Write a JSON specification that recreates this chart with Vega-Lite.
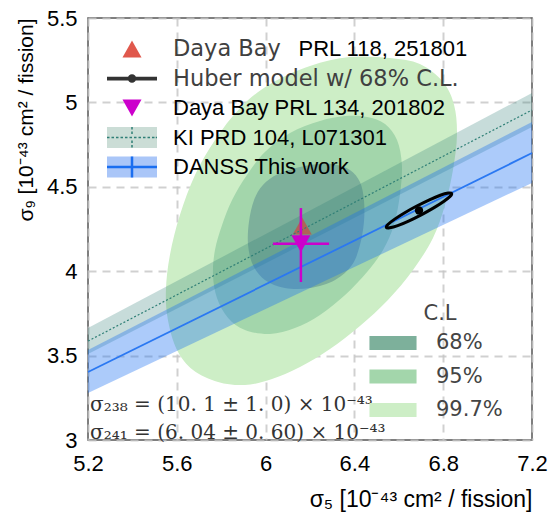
{
  "$schema": "https://vega.github.io/schema/vega-lite/v6.json",
  "width": 444,
  "height": 422,
  "autosize": {"type": "none"},
  "padding": {"left": 88, "top": 18, "right": 26, "bottom": 72},
  "background": "white",
  "config": {
    "view": {"stroke": "#555555", "strokeWidth": 1.5},
    "font": "Liberation Sans",
    "axis": {
      "grid": true,
      "gridColor": "#c4c4c4",
      "gridDash": [8, 6],
      "gridWidth": 2,
      "gridOpacity": 0.8,
      "ticks": false,
      "domain": false,
      "labelFont": "Liberation Sans",
      "labelFontSize": 22,
      "labelColor": "#000000",
      "titleFont": "Liberation Sans",
      "titleFontSize": 21,
      "titleFontWeight": "normal",
      "titleColor": "#000000",
      "zindex": 1
    }
  },
  "resolve": {"scale": {"fill": "independent", "shape": "independent"}},
  "datasets": {
    "contours": [
      {"cl": "99.7%", "i": 0, "x": 6.560, "y": 5.263},
      {"cl": "99.7%", "i": 1, "x": 6.695, "y": 5.227},
      {"cl": "99.7%", "i": 2, "x": 6.799, "y": 5.121},
      {"cl": "99.7%", "i": 3, "x": 6.849, "y": 4.985},
      {"cl": "99.7%", "i": 4, "x": 6.862, "y": 4.807},
      {"cl": "99.7%", "i": 5, "x": 6.844, "y": 4.600},
      {"cl": "99.7%", "i": 6, "x": 6.808, "y": 4.392},
      {"cl": "99.7%", "i": 7, "x": 6.754, "y": 4.197},
      {"cl": "99.7%", "i": 8, "x": 6.664, "y": 4.007},
      {"cl": "99.7%", "i": 9, "x": 6.551, "y": 3.829},
      {"cl": "99.7%", "i": 10, "x": 6.425, "y": 3.675},
      {"cl": "99.7%", "i": 11, "x": 6.290, "y": 3.539},
      {"cl": "99.7%", "i": 12, "x": 6.155, "y": 3.432},
      {"cl": "99.7%", "i": 13, "x": 6.029, "y": 3.361},
      {"cl": "99.7%", "i": 14, "x": 5.907, "y": 3.326},
      {"cl": "99.7%", "i": 15, "x": 5.786, "y": 3.344},
      {"cl": "99.7%", "i": 16, "x": 5.673, "y": 3.415},
      {"cl": "99.7%", "i": 17, "x": 5.601, "y": 3.533},
      {"cl": "99.7%", "i": 18, "x": 5.560, "y": 3.711},
      {"cl": "99.7%", "i": 19, "x": 5.551, "y": 3.889},
      {"cl": "99.7%", "i": 20, "x": 5.569, "y": 4.096},
      {"cl": "99.7%", "i": 21, "x": 5.614, "y": 4.333},
      {"cl": "99.7%", "i": 22, "x": 5.682, "y": 4.570},
      {"cl": "99.7%", "i": 23, "x": 5.772, "y": 4.777},
      {"cl": "99.7%", "i": 24, "x": 5.885, "y": 4.967},
      {"cl": "99.7%", "i": 25, "x": 6.020, "y": 5.109},
      {"cl": "99.7%", "i": 26, "x": 6.200, "y": 5.216},
      {"cl": "99.7%", "i": 27, "x": 6.380, "y": 5.269},
      {"cl": "95%", "i": 0, "x": 6.457, "y": 4.914},
      {"cl": "95%", "i": 1, "x": 6.538, "y": 4.872},
      {"cl": "95%", "i": 2, "x": 6.592, "y": 4.777},
      {"cl": "95%", "i": 3, "x": 6.614, "y": 4.629},
      {"cl": "95%", "i": 4, "x": 6.605, "y": 4.451},
      {"cl": "95%", "i": 5, "x": 6.578, "y": 4.274},
      {"cl": "95%", "i": 6, "x": 6.529, "y": 4.126},
      {"cl": "95%", "i": 7, "x": 6.457, "y": 3.995},
      {"cl": "95%", "i": 8, "x": 6.358, "y": 3.859},
      {"cl": "95%", "i": 9, "x": 6.245, "y": 3.741},
      {"cl": "95%", "i": 10, "x": 6.132, "y": 3.663},
      {"cl": "95%", "i": 11, "x": 6.020, "y": 3.628},
      {"cl": "95%", "i": 12, "x": 5.907, "y": 3.652},
      {"cl": "95%", "i": 13, "x": 5.831, "y": 3.723},
      {"cl": "95%", "i": 14, "x": 5.781, "y": 3.841},
      {"cl": "95%", "i": 15, "x": 5.763, "y": 3.977},
      {"cl": "95%", "i": 16, "x": 5.772, "y": 4.126},
      {"cl": "95%", "i": 17, "x": 5.804, "y": 4.274},
      {"cl": "95%", "i": 18, "x": 5.849, "y": 4.422},
      {"cl": "95%", "i": 19, "x": 5.916, "y": 4.570},
      {"cl": "95%", "i": 20, "x": 5.997, "y": 4.706},
      {"cl": "95%", "i": 21, "x": 6.110, "y": 4.819},
      {"cl": "95%", "i": 22, "x": 6.245, "y": 4.890},
      {"cl": "95%", "i": 23, "x": 6.358, "y": 4.919},
      {"cl": "68%", "i": 0, "x": 6.304, "y": 4.635},
      {"cl": "68%", "i": 1, "x": 6.380, "y": 4.600},
      {"cl": "68%", "i": 2, "x": 6.425, "y": 4.528},
      {"cl": "68%", "i": 3, "x": 6.443, "y": 4.422},
      {"cl": "68%", "i": 4, "x": 6.443, "y": 4.291},
      {"cl": "68%", "i": 5, "x": 6.425, "y": 4.155},
      {"cl": "68%", "i": 6, "x": 6.389, "y": 4.037},
      {"cl": "68%", "i": 7, "x": 6.313, "y": 3.948},
      {"cl": "68%", "i": 8, "x": 6.200, "y": 3.900},
      {"cl": "68%", "i": 9, "x": 6.087, "y": 3.900},
      {"cl": "68%", "i": 10, "x": 5.997, "y": 3.948},
      {"cl": "68%", "i": 11, "x": 5.943, "y": 4.037},
      {"cl": "68%", "i": 12, "x": 5.921, "y": 4.155},
      {"cl": "68%", "i": 13, "x": 5.925, "y": 4.291},
      {"cl": "68%", "i": 14, "x": 5.948, "y": 4.422},
      {"cl": "68%", "i": 15, "x": 5.988, "y": 4.511},
      {"cl": "68%", "i": 16, "x": 6.056, "y": 4.576},
      {"cl": "68%", "i": 17, "x": 6.155, "y": 4.617},
      {"cl": "68%", "i": 18, "x": 6.236, "y": 4.635}
    ],
    "huber": [
      {"i": 0, "x": 6.838, "y": 4.461},
      {"i": 1, "x": 6.831, "y": 4.443},
      {"i": 2, "x": 6.802, "y": 4.413},
      {"i": 3, "x": 6.757, "y": 4.375},
      {"i": 4, "x": 6.701, "y": 4.334},
      {"i": 5, "x": 6.644, "y": 4.297},
      {"i": 6, "x": 6.595, "y": 4.270},
      {"i": 7, "x": 6.559, "y": 4.257},
      {"i": 8, "x": 6.544, "y": 4.259},
      {"i": 9, "x": 6.551, "y": 4.277},
      {"i": 10, "x": 6.580, "y": 4.307},
      {"i": 11, "x": 6.625, "y": 4.345},
      {"i": 12, "x": 6.681, "y": 4.386},
      {"i": 13, "x": 6.738, "y": 4.423},
      {"i": 14, "x": 6.787, "y": 4.450},
      {"i": 15, "x": 6.823, "y": 4.463}
    ],
    "bands": [
      {"series": "KI PRD 104, L071301", "x": 5.2, "lo": 3.509, "mid": 3.586, "hi": 3.663},
      {"series": "KI PRD 104, L071301", "x": 7.2, "lo": 4.854, "mid": 4.955, "hi": 5.056},
      {"series": "DANSS This work", "x": 5.2, "lo": 3.278, "mid": 3.403, "hi": 3.533},
      {"series": "DANSS This work", "x": 7.2, "lo": 4.523, "mid": 4.700, "hi": 4.884}
    ],
    "points": [
      {"series": "Daya Bay PRL 118, 251801", "x": 6.165, "y": 4.268},
      {"series": "Daya Bay PRL 134, 201802", "x": 6.159, "y": 4.162, "xlo": 6.033, "xhi": 6.286, "ylo": 3.936, "yhi": 4.374}
    ],
    "huberCenter": [
      {"series": "Huber model w/ 68% C.L.", "x": 6.691, "y": 4.360}
    ]
  },
  "layer": [
    {
      "data": {"name": "contours"},
      "transform": [{"filter": "datum.cl === '99.7%'"}],
      "mark": {"type": "line", "interpolate": "cardinal-closed", "stroke": "transparent"},
      "encoding": {
        "x": {"field": "x", "type": "quantitative", "scale": {"domain": [5.2, 7.2], "nice": false, "zero": false},
          "axis": {"values": [5.2, 5.6, 6, 6.4, 6.8, 7.2], "format": "~g", "title": "σ₅ [10⁻⁴³ cm² / fission]", "titleAnchor": "end", "titleFontSize": 23, "labelPadding": 13, "titlePadding": 14, "labelFlush": false}},
        "y": {"field": "y", "type": "quantitative", "scale": {"domain": [3, 5.5], "nice": false, "zero": false},
          "axis": {"values": [3, 3.5, 4, 4.5, 5, 5.5], "format": "~g", "title": "σ₉ [10⁻⁴³ cm² / fission]", "titleAnchor": "end", "labelPadding": 11, "titlePadding": 10, "labelFlush": false}},
        "order": {"field": "i", "type": "quantitative"},
        "fill": {"field": "cl", "type": "nominal",
          "scale": {"domain": ["68%", "95%", "99.7%"], "range": ["#7db09b", "#a3d6ab", "#cdeec6"]},
          "legend": {
            "orient": "none", "legendX": 290, "legendY": 285, "direction": "vertical", "columns": 1,
            "title": "C.L", "titleFont": "DejaVu Sans", "titleFontSize": 21, "titleFontWeight": "normal", "titleColor": "#444444", "titleAnchor": "middle", "titlePadding": 4,
            "labelFont": "DejaVu Sans", "labelFontSize": 21, "labelColor": "#444444", "labelOffset": 28,
            "symbolType": "M-1.57,-0.47H1.57V0.47H-1.57Z", "symbolSize": 900, "symbolStrokeWidth": 0, "symbolOpacity": 1,
            "rowPadding": 8.5, "padding": 0
          }},
        "opacity": {"datum": "c1", "type": "ordinal",
          "scale": {"domain": ["c1", "c2", "c3", "c4", "c5"], "range": [1, 1, 1, 1, 1]},
          "legend": {
            "orient": "none", "legendX": 31.5, "legendY": 18.5, "direction": "vertical", "columns": 1, "gridAlign": "all",
            "title": null, "padding": 0, "rowPadding": 5.5, "symbolSize": 625, "symbolOffset": 0,
            "symbolType": "M-2,-0.84H2V0.84H-2Z", "symbolStrokeWidth": 0, "symbolFillColor": "transparent", "symbolStrokeColor": "transparent",
            "labelFont": "Liberation Sans", "labelFontSize": 22, "labelColor": "#000000", "labelOffset": 154, "labelLimit": 420,
            "labelExpr": "datum.value === 'c1' ? 'PRL 118, 251801' : ' '"
          }}
      }
    },
    {
      "data": {"name": "contours"},
      "transform": [{"filter": "datum.cl === '95%'"}],
      "mark": {"type": "line", "interpolate": "cardinal-closed", "stroke": "transparent"},
      "encoding": {
        "x": {"field": "x", "type": "quantitative", "scale": {"domain": [5.2, 7.2], "nice": false, "zero": false}},
        "y": {"field": "y", "type": "quantitative", "scale": {"domain": [3, 5.5], "nice": false, "zero": false}},
        "order": {"field": "i", "type": "quantitative"},
        "fill": {"field": "cl", "type": "nominal",
          "scale": {"domain": ["68%", "95%", "99.7%"], "range": ["#7db09b", "#a3d6ab", "#cdeec6"]}, "legend": null}
      }
    },
    {
      "data": {"name": "contours"},
      "transform": [{"filter": "datum.cl === '68%'"}],
      "mark": {"type": "line", "interpolate": "cardinal-closed", "stroke": "transparent"},
      "encoding": {
        "x": {"field": "x", "type": "quantitative", "scale": {"domain": [5.2, 7.2], "nice": false, "zero": false}},
        "y": {"field": "y", "type": "quantitative", "scale": {"domain": [3, 5.5], "nice": false, "zero": false}},
        "order": {"field": "i", "type": "quantitative"},
        "fill": {"field": "cl", "type": "nominal",
          "scale": {"domain": ["68%", "95%", "99.7%"], "range": ["#7db09b", "#a3d6ab", "#cdeec6"]}, "legend": null}
      }
    },
    {
      "data": {"name": "points"},
      "transform": [{"filter": "datum.series === 'Daya Bay PRL 118, 251801'"}],
      "mark": {"type": "point", "filled": true, "size": 625, "opacity": 1, "strokeWidth": 0, "color": "#e0584c", "shape": "M0,-0.68L0.76,0.68L-0.76,0.68Z"},
      "encoding": {
        "x": {"field": "x", "type": "quantitative", "scale": {"domain": [5.2, 7.2], "nice": false, "zero": false}},
        "y": {"field": "y", "type": "quantitative", "scale": {"domain": [3, 5.5], "nice": false, "zero": false}}
      }
    },
    {
      "data": {"name": "bands"},
      "transform": [{"filter": "datum.series === 'KI PRD 104, L071301'"}],
      "mark": {"type": "area", "opacity": 0.27, "color": "#2f7f76"},
      "encoding": {
        "x": {"field": "x", "type": "quantitative", "scale": {"domain": [5.2, 7.2], "nice": false, "zero": false}},
        "y": {"field": "lo", "type": "quantitative", "scale": {"domain": [3, 5.5], "nice": false, "zero": false}},
        "y2": {"field": "hi"}
      }
    },
    {
      "data": {"name": "bands"},
      "transform": [{"filter": "datum.series === 'DANSS This work'"}],
      "mark": {"type": "area", "opacity": 0.36, "color": "#1a6ef0"},
      "encoding": {
        "x": {"field": "x", "type": "quantitative", "scale": {"domain": [5.2, 7.2], "nice": false, "zero": false}},
        "y": {"field": "lo", "type": "quantitative", "scale": {"domain": [3, 5.5], "nice": false, "zero": false}},
        "y2": {"field": "hi"}
      }
    },
    {
      "data": {"name": "bands"},
      "transform": [{"filter": "datum.series === 'KI PRD 104, L071301'"}],
      "mark": {"type": "line", "stroke": "#2f7f76", "strokeWidth": 1.2, "strokeDash": [2, 2]},
      "encoding": {
        "x": {"field": "x", "type": "quantitative", "scale": {"domain": [5.2, 7.2], "nice": false, "zero": false}},
        "y": {"field": "mid", "type": "quantitative", "scale": {"domain": [3, 5.5], "nice": false, "zero": false}}
      }
    },
    {
      "data": {"name": "bands"},
      "transform": [{"filter": "datum.series === 'DANSS This work'"}],
      "mark": {"type": "line", "stroke": "#2a78f2", "strokeWidth": 1.8},
      "encoding": {
        "x": {"field": "x", "type": "quantitative", "scale": {"domain": [5.2, 7.2], "nice": false, "zero": false}},
        "y": {"field": "mid", "type": "quantitative", "scale": {"domain": [3, 5.5], "nice": false, "zero": false}}
      }
    },
    {
      "data": {"name": "huber"},
      "mark": {"type": "line", "interpolate": "cardinal-closed", "stroke": "#000000", "strokeWidth": 3},
      "encoding": {
        "x": {"field": "x", "type": "quantitative", "scale": {"domain": [5.2, 7.2], "nice": false, "zero": false}},
        "y": {"field": "y", "type": "quantitative", "scale": {"domain": [3, 5.5], "nice": false, "zero": false}},
        "order": {"field": "i", "type": "quantitative"}
      }
    },
    {
      "data": {"name": "huberCenter"},
      "mark": {"type": "point", "shape": "circle", "filled": true, "size": 70, "fill": "#000000", "opacity": 1, "strokeWidth": 0},
      "encoding": {
        "x": {"field": "x", "type": "quantitative", "scale": {"domain": [5.2, 7.2], "nice": false, "zero": false}},
        "y": {"field": "y", "type": "quantitative", "scale": {"domain": [3, 5.5], "nice": false, "zero": false}},
        "color": {"datum": "b1", "type": "nominal",
          "scale": {"domain": ["b1", "b2", "b3", "b4", "b5"], "range": ["transparent", "transparent", "transparent", "#cbddd6", "#aac6f8"]},
          "legend": {
            "orient": "none", "legendX": 31.5, "legendY": 18.5, "direction": "vertical", "columns": 1, "gridAlign": "all",
            "title": null, "padding": 0, "rowPadding": 5.5, "symbolSize": 625, "symbolOffset": 0,
            "symbolType": "M-2,-0.84H2V0.84H-2Z", "symbolStrokeWidth": 0, "symbolOpacity": 1,
            "labelFont": "DejaVu Sans", "labelFontSize": 22.5, "labelColor": "#404040", "labelOffset": 28.5, "labelLimit": 420,
            "labelExpr": "datum.value === 'b1' ? 'Daya Bay' : datum.value === 'b2' ? 'Huber model w/ 68% C.L.' : ' '"
          }}
      }
    },
    {
      "data": {"name": "points"},
      "transform": [{"filter": "datum.series === 'Daya Bay PRL 134, 201802'"}],
      "mark": {"type": "rule", "color": "#cc00cc", "strokeWidth": 2.5},
      "encoding": {
        "x": {"field": "xlo", "type": "quantitative", "scale": {"domain": [5.2, 7.2], "nice": false, "zero": false}},
        "x2": {"field": "xhi"},
        "y": {"field": "y", "type": "quantitative", "scale": {"domain": [3, 5.5], "nice": false, "zero": false}}
      }
    },
    {
      "data": {"name": "points"},
      "transform": [{"filter": "datum.series === 'Daya Bay PRL 134, 201802'"}],
      "mark": {"type": "rule", "color": "#cc00cc", "strokeWidth": 2.5},
      "encoding": {
        "x": {"field": "x", "type": "quantitative", "scale": {"domain": [5.2, 7.2], "nice": false, "zero": false}},
        "y": {"field": "ylo", "type": "quantitative", "scale": {"domain": [3, 5.5], "nice": false, "zero": false}},
        "y2": {"field": "yhi"}
      }
    },
    {
      "data": {"name": "points"},
      "transform": [{"filter": "datum.series === 'Daya Bay PRL 134, 201802'"}],
      "mark": {"type": "point", "filled": true, "size": 625, "opacity": 1, "strokeWidth": 0},
      "encoding": {
        "x": {"field": "x", "type": "quantitative", "scale": {"domain": [5.2, 7.2], "nice": false, "zero": false}},
        "y": {"field": "y", "type": "quantitative", "scale": {"domain": [3, 5.5], "nice": false, "zero": false}},
        "fill": {"field": "series", "type": "nominal",
          "scale": {"domain": ["Daya Bay PRL 118, 251801", "Huber model w/ 68% C.L.", "Daya Bay PRL 134, 201802", "KI PRD 104, L071301", "DANSS This work"],
                    "range": ["#e0584c", "#333333", "#cc00cc", "#2f7f76", "#1a6ef0"]},
          "legend": {
            "orient": "none", "legendX": 31.5, "legendY": 18.5, "direction": "vertical", "columns": 1, "gridAlign": "all",
            "title": null, "padding": 0, "rowPadding": 5.5, "symbolSize": 625, "symbolOffset": 0, "symbolOpacity": 1, "symbolStrokeWidth": 0,
            "labelFont": "Liberation Sans", "labelFontSize": 22, "labelColor": "#000000", "labelOffset": 28.5, "labelLimit": 420,
            "labelExpr": "datum.value === 'Daya Bay PRL 118, 251801' || datum.value === 'Huber model w/ 68% C.L.' ? ' ' : datum.label"
          }},
        "shape": {"field": "series", "type": "nominal",
          "scale": {"domain": ["Daya Bay PRL 118, 251801", "Huber model w/ 68% C.L.", "Daya Bay PRL 134, 201802", "KI PRD 104, L071301", "DANSS This work"],
                    "range": [
                      "M0,-0.68L0.76,0.68L-0.76,0.68Z",
                      "M-2,-0.15H2V0.15H-2Z M0.34,0A0.34,0.34,0,1,1,-0.34,0A0.34,0.34,0,1,1,0.34,0Z",
                      "M0,0.68L0.76,-0.68L-0.76,-0.68Z",
                      "M-2,-0.06H-1.8V0.06H-2Z M-1.64,-0.06H-1.44V0.06H-1.64Z M-1.28,-0.06H-1.08V0.06H-1.28Z M-0.92,-0.06H-0.72V0.06H-0.92Z M-0.56,-0.06H-0.36V0.06H-0.56Z M-0.2,-0.06H0V0.06H-0.2Z M0.16,-0.06H0.36V0.06H0.16Z M0.52,-0.06H0.72V0.06H0.52Z M0.88,-0.06H1.08V0.06H0.88Z M1.24,-0.06H1.44V0.06H1.24Z M1.6,-0.06H1.8V0.06H1.6Z M1.9,-0.06H2V0.06H1.9Z M-0.06,-0.84H0.06V-0.64H-0.06Z M-0.06,-0.48H0.06V-0.28H-0.06Z M-0.06,0.24H0.06V0.44H-0.06Z M-0.06,0.6H0.06V0.8H-0.06Z",
                      "M-2,-0.1H2V0.1H-2Z M-0.1,-0.84H0.1V0.84H-0.1Z"
                    ]}}
      }
    },
    {
      "data": {"values": [{"note": "cross sections"}]},
      "mark": {"type": "text", "align": "left", "baseline": "middle", "font": "DejaVu Serif", "fontSize": 20, "lineHeight": 28, "color": "#333333",
        "text": ["σ₂₃₈ = (10. 1 ± 1. 0) × 10⁻⁴³", "σ₂₄₁ = (6. 04 ± 0. 60) × 10⁻⁴³"]},
      "encoding": {
        "x": {"datum": 5.209, "type": "quantitative", "scale": {"domain": [5.2, 7.2], "nice": false, "zero": false}},
        "y": {"datum": 3.21, "type": "quantitative", "scale": {"domain": [3, 5.5], "nice": false, "zero": false}}
      }
    }
  ]
}
